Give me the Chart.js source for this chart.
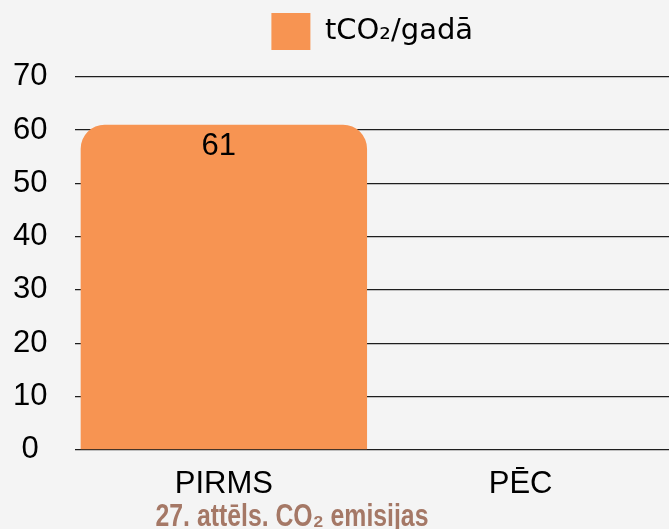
<!DOCTYPE html>
<html>
<head>
<meta charset="utf-8">
<script src="https://cdn.jsdelivr.net/npm/chart.js@4/dist/chart.umd.min.js"></script>
<style>
html,body{margin:0;padding:0;background:#f4f4f4}
#wrap{position:relative;width:669px;height:529px;overflow:hidden}
#cap{position:absolute;left:0;top:500px;width:584px;text-align:center;line-height:31px;font-family:"Liberation Sans",Arial,sans-serif;font-weight:bold;font-size:31px;color:#a57866;transform:scaleX(0.8);transform-origin:292px 0;white-space:nowrap}
</style>
</head>
<body>
<div id="wrap">
<canvas id="co2" width="669" height="529"></canvas>
<div id="cap">27. attēls. CO₂ emisijas</div>
</div>
<script>
let categories=["PIRMS","PĒC"]
let emissions=[61,null]
let seriesName="tCO₂/gadā"
let yTicks=[0,10,20,30,40,50,60,70]

let valueLabels={
id:"valueLabels",
afterDatasetsDraw(chart){
let ctx=chart.ctx
let meta=chart.getDatasetMeta(0)
ctx.save()
ctx.font="31px 'Liberation Sans', Arial, sans-serif"
ctx.fillStyle="#000"
ctx.textAlign="center"
ctx.textBaseline="middle"
meta.data.forEach(function(bar,i){
let v=emissions[i]
if(v===null) return
ctx.fillText(String(v),bar.x-5,bar.y+22)
})
ctx.restore()
}
}

let chart=new Chart(document.getElementById("co2"),{
type:"bar",
data:{
labels:categories,
datasets:[{
label:seriesName,
data:emissions,
backgroundColor:"#f79452",
borderRadius:{topLeft:24,topRight:24},
borderSkipped:"start",
barPercentage:0.965,
categoryPercentage:1
}]
},
options:{
responsive:false,
animation:false,
layout:{padding:{left:-15,right:0,top:-14,bottom:18}},
plugins:{
legend:{
fullSize:false,
labels:{
boxWidth:39,
boxHeight:37,
padding:27,
color:"#000",
font:{family:"'DejaVu Sans', sans-serif",size:29}
}
},
// empty title used only as a gap under the legend
title:{display:true,text:"",weight:500,padding:0,font:{size:14}},
tooltip:{enabled:false}
},
scales:{
x:{
grid:{display:false},
border:{display:false},
ticks:{color:"#000",padding:8,font:{family:"'Liberation Sans',Arial,sans-serif",size:31}}
},
y:{
min:0,
max:70,
afterBuildTicks(axis){axis.ticks=yTicks.map(function(v){return {value:v}})},
grid:{color:"#1e1e1e",lineWidth:1.2,drawTicks:false},
border:{display:false},
ticks:{color:"#000",padding:28,crossAlign:"center",font:{family:"'Liberation Sans',Arial,sans-serif",size:31}}
}
}
},
plugins:[valueLabels]
})
</script>
</body>
</html>
